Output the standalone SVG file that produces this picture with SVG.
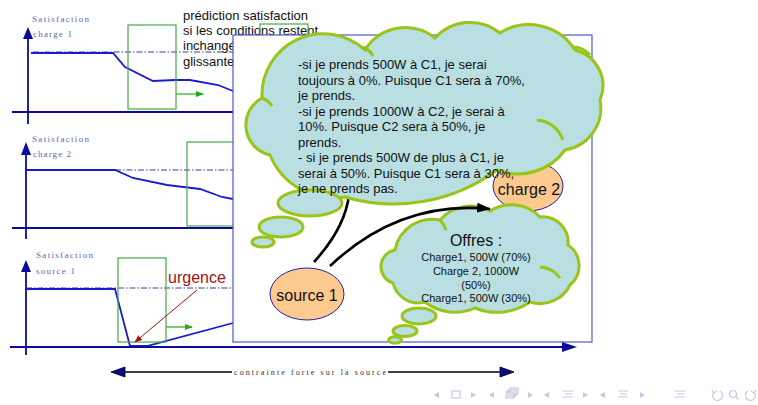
<svg xmlns="http://www.w3.org/2000/svg" width="758" height="405" viewBox="0 0 758 405">
<defs>
<style>
.ax{stroke:#0a0aa0;stroke-width:1.8;fill:none}
.axh{fill:#0a0aa0;stroke:none}
.curve{stroke:#1a1ad2;stroke-width:1.8;fill:none}
.dd{stroke:#3a3aaa;stroke-width:1;stroke-dasharray:6 2 1.5 2;fill:none}
.grect{stroke:#44aa44;stroke-width:1.2;fill:none}
.garr{stroke:#22aa22;stroke-width:1.2;fill:none}
.lbl{font-family:"Liberation Serif","Times New Roman",serif;font-size:9px;fill:#6464b4}
.txt{font-family:"Liberation Sans",Arial,sans-serif;fill:#111}
.cloud{fill:#b9dfe2;stroke:#99c418;stroke-width:3}
.inner{fill:none;stroke:#99c418;stroke-width:3}
.peach{fill:#fcc98f;stroke:#2222aa;stroke-width:1}
.blk{stroke:#000;stroke-width:2.6;fill:none}
.nav{fill:#c6c6e6;stroke:none}
.navs{fill:none;stroke:#c6c6e6;stroke-width:1.2}
</style>
<marker id="mg" markerWidth="8" markerHeight="6" refX="7" refY="3" orient="auto" markerUnits="userSpaceOnUse"><path d="M0,0 L8,3 L0,6 Z" fill="#22aa22"/></marker>
<marker id="mr" markerWidth="8" markerHeight="6" refX="7" refY="3" orient="auto" markerUnits="userSpaceOnUse"><path d="M0,0 L8,3 L0,6 Z" fill="#aa1111"/></marker>
<marker id="mb" markerWidth="14" markerHeight="10" refX="13" refY="5" orient="auto" markerUnits="userSpaceOnUse"><path d="M0,0 L14,5 L0,10 Z" fill="#000"/></marker>
</defs>

<!-- chart 1 -->
<g id="chart1">
<line class="ax" x1="28" y1="36" x2="28" y2="124"/>
<polygon class="axh" points="28,27 23,39 33,39"/>
<line class="ax" x1="12" y1="112" x2="233" y2="112"/>
<line class="dd" x1="33" y1="52" x2="233" y2="52"/>
<polyline class="curve" points="31,53 113,53 125,67 153,81 175,80 190,80 218,85 233,91"/>
<rect class="grect" x="128" y="25" width="48" height="84"/>
<line class="garr" x1="176" y1="94" x2="203" y2="94" marker-end="url(#mg)"/>
<text class="lbl" x="32" y="22" textLength="57" lengthAdjust="spacing">Satisfaction</text>
<text class="lbl" x="33" y="37" textLength="39" lengthAdjust="spacing">charge 1</text>
</g>

<!-- chart 2 -->
<g id="chart2">
<line class="ax" x1="26" y1="150" x2="26" y2="239"/>
<polygon class="axh" points="26,142 21,155 31,155"/>
<line class="ax" x1="12" y1="228" x2="233" y2="228"/>
<line class="dd" x1="115" y1="170" x2="233" y2="170"/>
<polyline class="curve" points="26,170 115,170 133,178 167,185 200,189 222,197 233,199"/>
<rect class="grect" x="187" y="142" width="60" height="84"/>
<text class="lbl" x="32" y="142" textLength="57" lengthAdjust="spacing">Satisfaction</text>
<text class="lbl" x="33" y="157" textLength="38" lengthAdjust="spacing">charge 2</text>
</g>

<!-- chart 3 -->
<g id="chart3">
<line class="ax" x1="26" y1="268" x2="26" y2="355"/>
<polygon class="axh" points="26,260 21,272 31,272"/>
<line class="dd" x1="26" y1="288" x2="233" y2="288"/>
<polyline class="curve" points="26,289 115,289 130,346 147,346 233,323"/>
<rect class="grect" x="118" y="258" width="48" height="84"/>
<line class="garr" x1="166" y1="327" x2="192" y2="327" marker-end="url(#mg)"/>
<text class="lbl" x="36" y="258" textLength="57" lengthAdjust="spacing">Satisfaction</text>
<text class="lbl" x="36" y="274" textLength="39" lengthAdjust="spacing">source 1</text>
<text class="txt" x="168" y="283" font-size="16" style="fill:#aa1111">urgence</text>
<line x1="197" y1="290" x2="135" y2="342" stroke="#aa1111" stroke-width="1" marker-end="url(#mr)"/>
</g>

<!-- prediction text -->
<g id="prediction" class="txt" font-size="13">
<text x="183" y="20">prédiction satisfaction</text>
<text x="183" y="35">si les conditions restent</text>
<text x="183" y="50">inchangées</text>
<text x="183" y="66">glissante</text>
</g>
<rect class="grect" x="260" y="24" width="48" height="40"/>

<!-- main box -->
<rect id="box" x="233" y="35" width="359" height="307" fill="#fff" stroke="#5555cc" stroke-width="1.2"/>

<!-- bottom axis with arrow -->
<g id="timeaxis">
<line class="ax" x1="10" y1="347" x2="564" y2="347"/>
<polygon class="axh" points="577,347 562,342 562,352"/>
</g>

<!-- nodes -->
<g id="charge1"><ellipse class="peach" cx="304" cy="74" rx="36" ry="25"/></g>
<g id="charge2"><ellipse class="peach" cx="528" cy="186" rx="35" ry="25"/>
<text class="txt" x="529" y="195" font-size="16" text-anchor="middle">charge 2</text></g>
<g id="source1"><ellipse class="peach" cx="307" cy="294" rx="37" ry="26"/>
<text class="txt" x="307" y="301" font-size="16" text-anchor="middle">source 1</text></g>

<!-- offres cloud -->
<g id="offres">
<path class="cloud" d="M395,250 A38,38 0 0 1 440,220 A40.6,40.6 0 0 1 490,211 A39.8,39.8 0 0 1 540,217 A25.6,25.6 0 0 1 568,245 A25,25 0 0 1 570,285 A33.4,33.4 0 0 1 530,302 A58.3,58.3 0 0 1 475,308 A48.9,48.9 0 0 1 425,302 A26.1,26.1 0 0 1 393,283 A17,17 0 0 1 395,250 Z"/>
<path class="inner" d="M540,267 Q553,268 560,278"/>
<path class="inner" d="M440,220 Q444,224 446,230"/>
<ellipse class="cloud" cx="419" cy="316" rx="17" ry="8"/>
<ellipse class="cloud" cx="405" cy="331" rx="12" ry="5.5"/>
<ellipse class="cloud" cx="395" cy="340" rx="6.5" ry="3.2"/>
<g class="txt" text-anchor="middle">
<text x="476" y="246" font-size="16">Offres :</text>
<text x="476" y="261" font-size="11">Charge1, 500W (70%)</text>
<text x="476" y="275" font-size="11">Charge 2, 1000W</text>
<text x="476" y="289" font-size="11">(50%)</text>
<text x="476" y="302" font-size="11">Charge1, 500W (30%)</text>
</g>
</g>

<!-- connectors -->
<g id="connectors">
<path class="blk" d="M349,195 Q345,228 314,262"/>
<path class="blk" d="M330,266 Q400,200 490,209" marker-end="url(#mb)"/>
</g>

<!-- thought cloud -->
<g id="thought">
<path class="cloud" d="M262,98 A61.4,61.4 0 0 1 365,50 A47.4,47.4 0 0 1 435,38 A47.4,47.4 0 0 1 500,33 A54.3,54.3 0 0 1 575,50 A36.7,36.7 0 0 1 600,100 A42.3,42.3 0 0 1 565,150 A58.2,58.2 0 0 1 497,170 A173.7,173.7 0 0 1 345,197 A69,69 0 0 1 270,155 A30.7,30.7 0 0 1 262,98 Z"/>
<path class="inner" d="M363,47 Q370,50 373,56"/>
<path class="inner" d="M573,47 Q583,47 590,55"/>
<path class="inner" d="M537,120 Q556,122 563,140"/>
<path class="inner" d="M262,98 Q268,100 272,106"/>
<ellipse class="cloud" cx="310" cy="203" rx="32" ry="13"/>
<ellipse class="cloud" cx="281" cy="227" rx="22" ry="10"/>
<ellipse class="cloud" cx="263" cy="242" rx="11" ry="5"/>
<g class="txt" font-size="13">
<text x="298" y="69">-si je prends 500W à C1, je serai</text>
<text x="298" y="85">toujours à 0%. Puisque C1 sera à 70%,</text>
<text x="298" y="100">je prends.</text>
<text x="298" y="116">-si je prends 1000W à C2, je serai à</text>
<text x="298" y="131">10%. Puisque C2 sera à 50%, je</text>
<text x="298" y="147">prends.</text>
<text x="298" y="162">- si je prends 500W de plus à C1, je</text>
<text x="298" y="178">serai à 50%. Puisque C1 sera à 30%,</text>
<text x="298" y="193">je ne prends pas.</text>
</g>
</g>

<!-- constraint arrow -->
<g id="constraint">
<line x1="124" y1="372" x2="232" y2="372" stroke="#000" stroke-width="1.5"/>
<line x1="388" y1="372" x2="501" y2="372" stroke="#000" stroke-width="1.5"/>
<polygon points="111,372 125,367 125,377" fill="#0a0a90" stroke="#000" stroke-width="0.8"/>
<polygon points="514,372 500,367 500,377" fill="#0a0a90" stroke="#000" stroke-width="0.8"/>
<text x="234" y="375" font-family="Liberation Serif, Times New Roman, serif" font-size="8" fill="#333" textLength="152" lengthAdjust="spacing">contrainte forte sur la source</text>
</g>

<!-- navigation symbols -->
<g id="nav">
<polygon class="nav" points="434,395 439,392 439,398"/>
<rect class="navs" x="452" y="391" width="8" height="7"/>
<polygon class="nav" points="471,392 476,395 471,398"/>
<polygon class="nav" points="489,395 494,392 494,398"/>
<rect class="navs" x="506" y="392" width="8" height="6"/>
<rect class="navs" x="508" y="390" width="8" height="6"/>
<rect class="navs" x="510" y="388" width="8" height="6"/>
<polygon class="nav" points="528,392 533,395 528,398"/>
<polygon class="nav" points="544,395 549,392 549,398"/>
<path class="navs" d="M563,391 H573 M565,394 H572 M563,397 H573"/>
<polygon class="nav" points="583,392 588,395 583,398"/>
<polygon class="nav" points="600,395 605,392 605,398"/>
<path class="navs" d="M618,391 H628 M620,394 H627 M618,397 H628"/>
<polygon class="nav" points="640,392 645,395 640,398"/>
<path class="navs" d="M675,391 H685 M677,394 H684 M675,397 H685"/>
<path class="navs" d="M714,392 A5,5 0 1 0 720,391 M712,390 L714,393 L717,391"/>
<circle class="navs" cx="733" cy="394" r="3.5"/>
<line class="navs" x1="735.5" y1="396.5" x2="738.5" y2="399.5"/>
<path class="navs" d="M754,392 A5,5 0 1 1 748,391 M756,390 L754,393 L751,391"/>
</g>
</svg>
